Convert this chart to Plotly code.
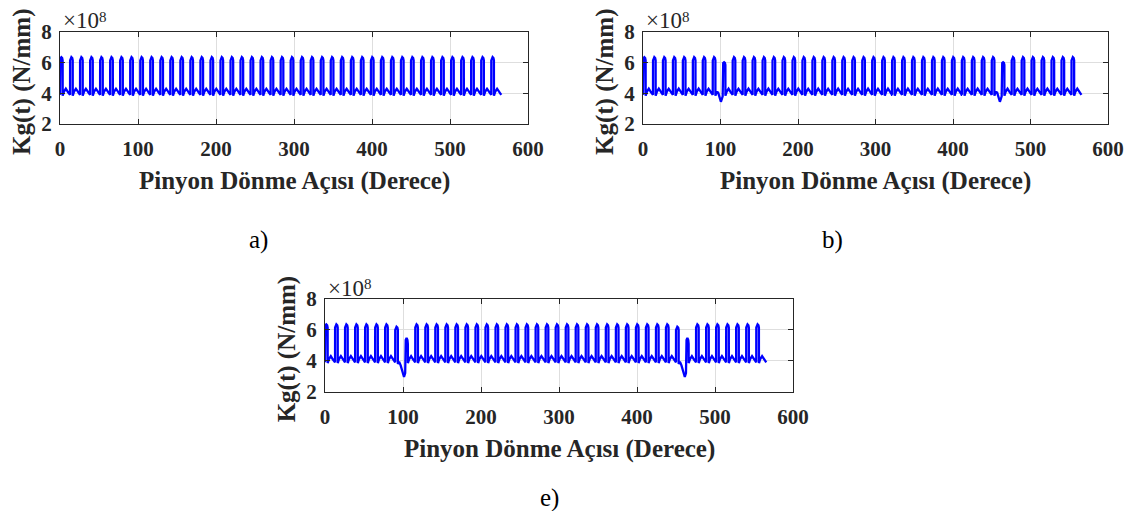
import plotly.graph_objects as go

# page body has an 8px margin, so the figure is drawn 8px in from the window edge
OFF = 8
W, H = 1145 - 2 * OFF, 519 - 2 * OFF

# Mesh-cycle start angles (deg)
MESH_START_DEG = [0.0, 12.9, 25.7, 38.6, 51.4, 64.3, 77.1, 90.0, 102.9, 115.7,
                  128.6, 141.4, 154.3, 167.1, 180.0, 192.9, 205.7, 218.6, 231.4, 244.3,
                  257.1, 270.0, 282.9, 295.7, 308.6, 321.4, 334.3, 347.1, 360.0, 372.9,
                  385.7, 398.6, 411.4, 424.3, 437.1, 450.0, 462.9, 475.7, 488.6, 501.4,
                  514.3, 527.1, 540.0, 552.9]

# Healthy mesh cycle (phase in deg within one cycle, Kg in 1e8 N/mm)
NORMAL_PHASE = [0.0, 0.05, 0.6, 1.7, 2.8, 3.4, 3.45, 5.0, 7.5, 10.0, 12.8]
NORMAL_KG = [3.9, 6.15, 6.3, 6.36, 6.3, 6.15, 3.85, 4.1, 4.3, 4.1, 3.9]

# b) cycle before the damaged tooth and the damaged tooth cycle
B_PRE_PHASE = [0.0, 0.05, 0.6, 1.7, 2.8, 3.4, 3.45, 5.0, 7.0, 9.0, 10.5, 12.8]
B_PRE_KG = [3.9, 6.15, 6.3, 6.36, 6.3, 6.15, 3.85, 4.1, 4.05, 3.75, 3.45, 3.8]
B_DMG_PHASE = [0.0, 0.05, 0.6, 1.7, 2.8, 3.4, 3.45, 5.0, 7.5, 10.0, 12.8]
B_DMG_KG = [3.8, 5.85, 5.98, 6.03, 5.98, 5.85, 3.85, 4.1, 4.3, 4.1, 3.9]

# e) cycle before the damaged tooth and the damaged tooth cycle
E_PRE_PHASE = [0.0, 0.05, 0.6, 1.7, 2.8, 3.4, 3.45, 5.0, 7.0, 8.5, 10.0, 11.3, 12.8]
E_PRE_KG = [3.9, 6.0, 6.15, 6.2, 6.15, 6.0, 3.8, 3.95, 3.7, 3.45, 3.1, 2.95, 3.2]
E_DMG_PHASE = [0.0, 0.6, 1.7, 2.8, 3.3, 3.35, 5.0, 7.5, 10.0, 12.8]
E_DMG_KG = [3.2, 5.35, 5.48, 5.35, 5.1, 3.85, 4.1, 4.3, 4.1, 3.9]

# Which cycles (index into MESH_START_DEG) use a special profile
DEFECTS_A = {}
DEFECTS_B = {7: "pre", 8: "dmg", 35: "pre", 36: "dmg"}
DEFECTS_E = {7: "pre", 8: "dmg", 35: "pre", 36: "dmg"}

X_TICKS = [0, 100, 200, 300, 400, 500, 600]
Y_TICKS = [2, 4, 6, 8]

PROFILES_B = {"pre": (B_PRE_PHASE, B_PRE_KG), "dmg": (B_DMG_PHASE, B_DMG_KG)}
PROFILES_E = {"pre": (E_PRE_PHASE, E_PRE_KG), "dmg": (E_DMG_PHASE, E_DMG_KG)}


def build(defects, profiles):
    xs, ys = [], []
    for i, s in enumerate(MESH_START_DEG):
        if i in defects:
            ph, kg = profiles[defects[i]]
        else:
            ph, kg = NORMAL_PHASE, NORMAL_KG
        xs += [s + p for p in ph]
        ys += list(kg)
    return xs, ys


# panel boxes in window pixels: left, top, right, bottom
BOXES = {
    "a": (60, 32, 528, 124),
    "b": (643, 32, 1108, 124),
    "e": (325, 299, 793, 391.7),
}
LABEL_POS = {"a": (258, 240), "b": (832, 240), "e": (549, 498)}

series = {
    "a": build(DEFECTS_A, {}),
    "b": build(DEFECTS_B, PROFILES_B),
    "e": build(DEFECTS_E, PROFILES_E),
}

FONT = "Liberation Serif, Times New Roman, serif"
fig = go.Figure()
annotations = []
layout = dict(
    width=W, height=H, margin=dict(l=0, r=0, t=0, b=0, autoexpand=False),
    paper_bgcolor="white", plot_bgcolor="white", showlegend=False,
    font=dict(family=FONT, color="#222222"),
)


def px(x):
    return (x - OFF) / W


def py(y):
    return 1 - (y - OFF) / H


for k, name in enumerate(["a", "b", "e"]):
    l, t, r, b = BOXES[name]
    xa = "xaxis" if k == 0 else f"xaxis{k+1}"
    ya = "yaxis" if k == 0 else f"yaxis{k+1}"
    xref = "x" if k == 0 else f"x{k+1}"
    yref = "y" if k == 0 else f"y{k+1}"
    xs, ys = series[name]
    fig.add_trace(go.Scatter(x=xs, y=ys, mode="lines", xaxis=xref, yaxis=yref,
                             line=dict(color="#0000ff", width=2.3), hoverinfo="skip"))
    common = dict(showline=True, linecolor="#262626", linewidth=1, mirror="ticks",
                  ticks="inside", ticklen=5, tickcolor="#262626", automargin=False,
                  showgrid=True, gridcolor="#dedede", gridwidth=1, zeroline=False,
                  tickfont=dict(family=FONT, size=21, weight="bold", color="#262626"))
    layout[xa] = dict(domain=[px(l), px(r)], range=[0, 600], tickvals=X_TICKS,
                      anchor=yref, ticklabelstandoff=6, **common)
    layout[ya] = dict(domain=[py(b), py(t)], range=[2, 8], tickvals=Y_TICKS,
                      anchor=xref, ticklabelstandoff=3, **common)
    # axis titles
    annotations.append(dict(x=px((l + r) / 2), y=py(b + 57), xref="paper", yref="paper",
                            text="Pinyon Dönme Açısı (Derece)", showarrow=False,
                            xanchor="center", yanchor="middle",
                            font=dict(family=FONT, size=25, weight="bold", color="#262626")))
    annotations.append(dict(x=px(l - 38), y=py((t + b) / 2 + 4), xref="paper", yref="paper",
                            text="Kg(t) (N/mm)", showarrow=False, textangle=-90,
                            xanchor="center", yanchor="middle",
                            font=dict(family=FONT, size=25, weight="bold", color="#262626")))
    # exponent label: "×10" with a raised "8"
    annotations.append(dict(x=px(l + 1), y=py(t - 11), xref="paper", yref="paper",
                            text="×10", showarrow=False,
                            xanchor="left", yanchor="middle",
                            font=dict(family=FONT, size=23, color="#262626")))
    annotations.append(dict(x=px(l + 37), y=py(t - 15), xref="paper", yref="paper",
                            text="8", showarrow=False,
                            xanchor="left", yanchor="middle",
                            font=dict(family=FONT, size=15, color="#262626")))
    lx, ly = LABEL_POS[name]
    annotations.append(dict(x=px(lx), y=py(ly), xref="paper", yref="paper",
                            text=name + ")", showarrow=False,
                            xanchor="center", yanchor="middle",
                            font=dict(family=FONT, size=25, color="black")))

layout["annotations"] = annotations
fig.update_layout(**layout)
fig.write_html("out.html")
